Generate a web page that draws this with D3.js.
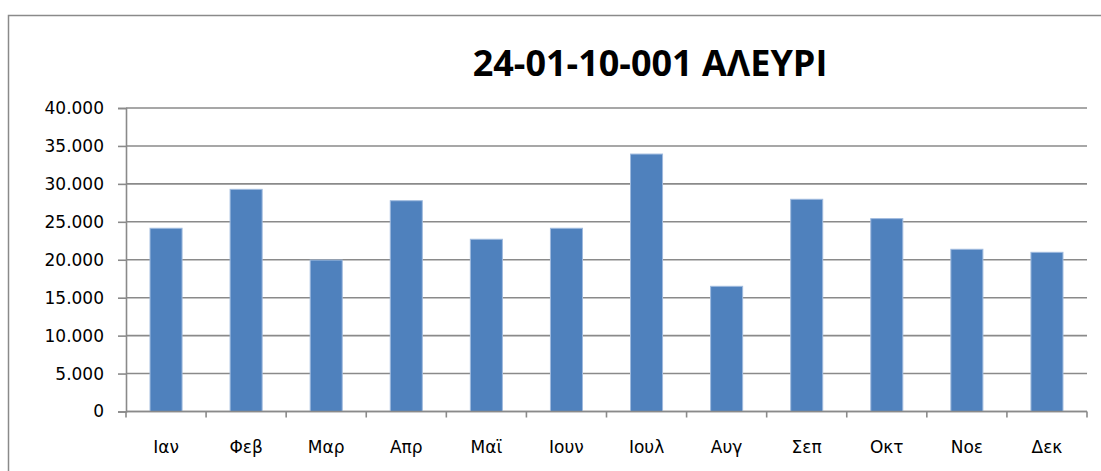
<!DOCTYPE html>
<html>
<head>
<meta charset="utf-8">
<script src="https://cdn.jsdelivr.net/npm/d3@7"></script>
<style>
  body { margin: 0; background: #fff; }
  svg { display: block; }
</style>
</head>
<body>
<div id="chart"></div>
<script>
/*
  Monthly bar chart - 24-01-10-001 ΑΛΕΥΡΙ
*/

var title = "24-01-10-001 ΑΛΕΥΡΙ";
var months = ["Ιαν", "Φεβ", "Μαρ", "Απρ", "Μαϊ", "Ιουν", "Ιουλ", "Αυγ", "Σεπ", "Οκτ", "Νοε", "Δεκ"];
var values = [24150, 29280, 19960, 27780, 22700, 24150, 33930, 16500, 27970, 25420, 21380, 20980];
var yTicks = [0, 5000, 10000, 15000, 20000, 25000, 30000, 35000, 40000];

var W = 1101, H = 471,
    margin = {top: 108, right: 14, bottom: 59.5, left: 126},
    width = 1087 - margin.left,
    height = 411.5 - margin.top;

var fontFam = "'DejaVu Sans', Verdana, sans-serif";

var svg = d3.select("#chart").append("svg")
    .attr("width", W)
    .attr("height", H);

// outer chart border
svg.append("rect")
    .attr("x", 8.5).attr("y", 15.5)
    .attr("width", W + 40).attr("height", H + 40)
    .attr("fill", "none")
    .attr("stroke", "#8a8a8a")
    .attr("stroke-width", 1.5);

svg.append("text")
    .attr("x", 650)
    .attr("y", 76)
    .attr("text-anchor", "middle")
    .style("font-family", "'Open Sans', sans-serif")
    .style("font-weight", "bold")
    .style("font-size", "36px")
    .attr("fill", "#000")
    .text(title);

var g = svg.append("g")
    .attr("transform", "translate(" + margin.left + "," + margin.top + ")");

var x = d3.scaleBand()
    .domain(months)
    .range([0, width])
    .paddingInner(0.6)
    .paddingOuter(0.3);

var y = d3.scaleLinear()
    .domain([0, 40000])
    .range([height, 0]);

var fmt = function(d) { return d === 0 ? "0" : d3.format(",")(d).replace(/,/g, "."); };

// gridlines
g.selectAll(".grid")
    .data(yTicks)
  .enter().append("line")
    .attr("class", "grid")
    .attr("x1", 0).attr("x2", width)
    .attr("y1", function(d) { return y(d); })
    .attr("y2", function(d) { return y(d); })
    .attr("stroke", "#8a8a8a")
    .attr("stroke-width", 1.6);

// bars
g.selectAll(".bar")
    .data(values)
  .enter().append("rect")
    .attr("class", "bar")
    .attr("x", function(d, i) { return x(months[i]); })
    .attr("width", x.bandwidth())
    .attr("y", function(d) { return y(d); })
    .attr("height", function(d) { return height - y(d); })
    .attr("fill", "#4f81bd")
    .attr("stroke", "#9fbade")
    .attr("stroke-width", 1);

// y axis
var yAxis = g.append("g")
    .call(d3.axisLeft(y).tickValues(yTicks).tickFormat(fmt).tickSize(8).tickPadding(14));
yAxis.select(".domain").attr("stroke", "#8a8a8a").attr("stroke-width", 1.6);
yAxis.selectAll(".tick line").attr("stroke", "#8a8a8a").attr("stroke-width", 1.6);
yAxis.selectAll("text")
    .style("font-family", fontFam)
    .style("font-size", "17px")
    .attr("fill", "#000");

// x axis, ticks at category boundaries
var bounds = d3.range(months.length + 1).map(function(i) { return i * width / months.length; });
var xAxis = g.append("g")
    .attr("transform", "translate(0," + height + ")");
xAxis.append("line")
    .attr("x1", 0).attr("x2", width)
    .attr("stroke", "#8a8a8a").attr("stroke-width", 1.6);
xAxis.selectAll(".xtick")
    .data(bounds)
  .enter().append("line")
    .attr("class", "xtick")
    .attr("x1", function(d) { return d; })
    .attr("x2", function(d) { return d; })
    .attr("y1", 0).attr("y2", 6)
    .attr("stroke", "#8a8a8a").attr("stroke-width", 1.6);
xAxis.selectAll(".xlabel")
    .data(months)
  .enter().append("text")
    .attr("class", "xlabel")
    .attr("x", function(d) { return x(d) + x.bandwidth() / 2; })
    .attr("y", 41)
    .attr("text-anchor", "middle")
    .style("font-family", fontFam)
    .style("font-size", "17px")
    .attr("fill", "#000")
    .text(function(d) { return d; });
</script>
</body>
</html>
